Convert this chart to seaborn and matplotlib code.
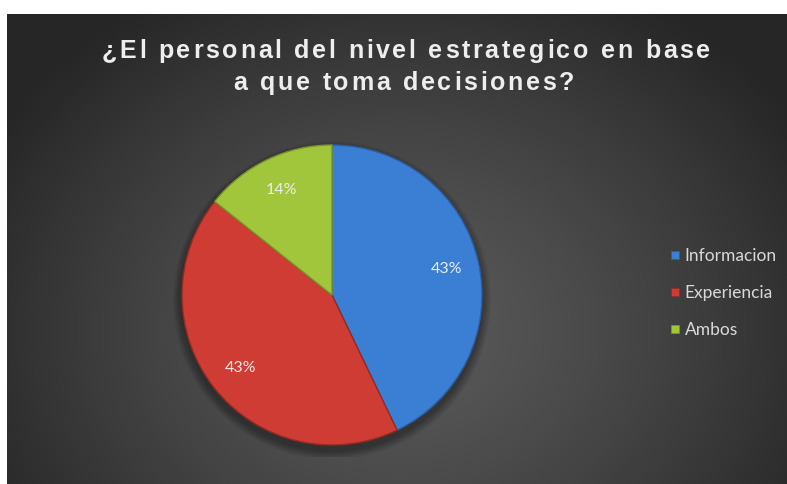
import numpy as np
import matplotlib
matplotlib.use("Agg")
import matplotlib.pyplot as plt
import matplotlib.patheffects as pe
import seaborn as sns
from matplotlib.lines import Line2D
from matplotlib.patches import Circle
from matplotlib.font_manager import FontProperties

# ---- data -------------------------------------------------------------
categories = ["Informacion", "Experiencia", "Ambos"]
counts = [3, 3, 1]
title_lines = ["¿El personal del nivel estrategico en base",
               "a que toma decisiones?"]

# ---- style ------------------------------------------------------------
sns.set_theme(style="white")
plt.rcParams["font.family"] = ["Lato", "DejaVu Sans"]

palette = sns.color_palette(["#3b7fd5", "#cf3c34", "#a2c63b"])
edge_cols = ["#2a5fa6", "#98291f", "#78962a"]

W, H = 787, 484
fig = plt.figure(figsize=(W / 100, H / 100), dpi=100, facecolor="white")

# ---- dark radial-gradient panel --------------------------------------
left_px, top_px = 7, 14
bg = fig.add_axes([left_px / W, 0, (W - left_px) / W, (H - top_px) / H])
bg.set_axis_off()
ny, nx = H - top_px, W - left_px
yy, xx = np.mgrid[0:ny, 0:nx]
d = np.sqrt(((xx + left_px - 400) / 470) ** 2 + ((yy + top_px - 330) / 390) ** 2)
d = np.clip(d, 0, 1)
c0, c1 = 0x5a / 255, 0x26 / 255
val = c0 + (c1 - c0) * d ** 1.3
bg.imshow(np.dstack([val] * 3), aspect="auto", extent=[0, 1, 0, 1], origin="upper")
bg.set_xlim(0, 1)
bg.set_ylim(0, 1)

# ---- pie --------------------------------------------------------------
cx, cy, r, pad = 332, 295, 150, 12
ax = fig.add_axes([(cx - r - pad) / W, (H - cy - r - pad) / H,
                   (2 * r + 2 * pad) / W, (2 * r + 2 * pad) / H])
ax.set_axis_off()
ax.patch.set_alpha(0)

# soft drop shadow under the pie
for i in range(10):
    ax.add_patch(Circle((0, -0.035), 1.0 + 0.006 * (10 - i),
                        facecolor="black", edgecolor="none", alpha=0.035))

wedges, texts, autotexts = ax.pie(
    counts, colors=palette, startangle=90, counterclock=False, radius=1,
    autopct=lambda p: f"{p:.0f}%", pctdistance=0.78,
    wedgeprops=dict(linewidth=1.0),
    textprops=dict(color="#ebebeb", fontsize=11.5),
)
for w, ec in zip(wedges, edge_cols):
    w.set_edgecolor(ec)

lim = (r + pad) / r
ax.set_xlim(-lim, lim)
ax.set_ylim(-lim, lim)
ax.set_aspect("equal")

# ---- legend -----------------------------------------------------------
handles = [Line2D([], [], linestyle="none", marker="s", markersize=5.5,
                  markerfacecolor=c, markeredgecolor=ec, markeredgewidth=0.5)
           for c, ec in zip(palette, edge_cols)]
leg = fig.legend(handles, categories, loc="center left",
                 bbox_to_anchor=(669 / W, 1 - 293 / H), frameon=False,
                 handlelength=0.7, handletextpad=0.2, labelspacing=1.2,
                 borderpad=0, borderaxespad=0,
                 prop=FontProperties(family="Lato", size=12.5))
for t in leg.get_texts():
    t.set_color("#d9d9d9")

# ---- letter-spaced title ---------------------------------------------
renderer = fig.canvas.get_renderer()
tprop = FontProperties(family="Liberation Sans", weight="bold", size=18)


def width_px(s):
    if not s:
        return 0.0
    w, _, _ = renderer.get_text_width_height_descent(s + "|", tprop, ismath=False)
    w0, _, _ = renderer.get_text_width_height_descent("|", tprop, ismath=False)
    return w - w0


spacing = 2.7
for line, base_y, center_x in zip(title_lines, [58, 90], [406, 404]):
    total = width_px(line) + spacing * (len(line) - 1)
    x0 = center_x - total / 2
    for i, ch in enumerate(line):
        if ch == " ":
            continue
        x = x0 + width_px(line[:i]) + i * spacing
        fig.text(x / W, 1 - base_y / H, ch, fontproperties=tprop,
                 ha="left", va="baseline", color="#eeeeee")

fig.savefig("out.png", dpi=100, facecolor="white")
